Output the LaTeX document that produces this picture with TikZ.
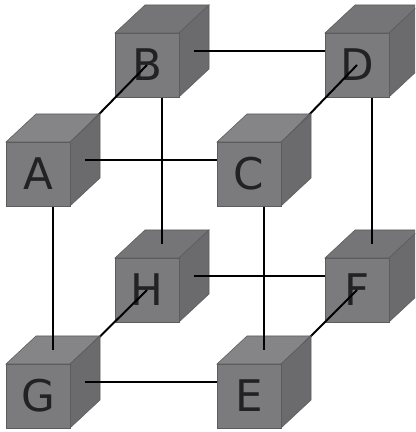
\documentclass[tikz,border=0pt]{standalone}
\usepackage{fontspec}
\setsansfont{DejaVu Sans}
\usepackage{xcolor}
\usepackage{tikz}
\usetikzlibrary{calc}
\definecolor{cfront}{HTML}{7B7B7D}
\definecolor{ctop}{HTML}{757577}
\definecolor{cside}{HTML}{6B6B6D}
\definecolor{cedge}{HTML}{5C5C5E}
\definecolor{cletter}{HTML}{222222}

\tikzset{
  cubefront/.style={fill=cfront, draw=cedge, line width=0.4pt},
  cubetop/.style={fill=ctop, draw=cedge, line width=0.4pt},
  cubeside/.style={fill=cside, draw=cedge, line width=0.4pt},
  cubelabel/.style={font=\sffamily\fontsize{31}{36}\selectfont, text=cletter, inner sep=0pt},
  link/.style={black, line width=1.4pt}
}

%% face centres of a cube: f front, k back, t top, b bottom, l left, r right
\newcommand{\cubeat}[2]{%
  \coordinate (#1)   at (#2);
  \coordinate (#1-f) at (#2);
  \coordinate (#1-k) at ($(#2)+(30,28)$);
  \coordinate (#1-t) at ($(#2)+(15,46)$);
  \coordinate (#1-b) at ($(#2)+(15,-18)$);
  \coordinate (#1-r) at ($(#2)+(47,14)$);
  \coordinate (#1-l) at ($(#2)+(-17,14)$);
}
%% cube drawn round its front centre, #2 = opacity of the top face
\newcommand{\drawcube}[2]{%
  \begin{scope}[shift={(#1)}]
    \filldraw[cubetop, fill opacity=#2] (-32,32) -- (32,32) -- (62,60) -- (-2,60) -- cycle;
    \filldraw[cubeside] (32,-32) -- (62,-4) -- (62,60) -- (32,32) -- cycle;
    \filldraw[cubefront] (-32,-32) rectangle (32,32);
  \end{scope}
  \node[cubelabel] (#1-name) at (#1) {#1};
}

\begin{document}
\begin{tikzpicture}[x=0.025cm, y=0.025cm]

%% Background
\fill[white] (0,0) rectangle (415,432);
\clip (0,0) rectangle (415,432);

%% Positions
\cubeat{A}{38,258}
\cubeat{C}{249,258}
\cubeat{G}{38,36}
\cubeat{E}{249,36}
\cubeat{B}{147,367}
\cubeat{D}{357,367}
\cubeat{H}{147,142}
\cubeat{F}{357,142}

%% ── back layer, bottom row ──────────────────────────────────────────────
\drawcube{H}{1}
\draw[link] (H-r) -- (F-l);
\drawcube{F}{1}

%% back layer, verticals
\draw[link] (B-b) -- (H-t);
\draw[link] (D-b) -- (F-t);

%% ── back layer, top row ─────────────────────────────────────────────────
\drawcube{B}{1}
\draw[link] (B-r) -- (D-l);
\drawcube{D}{1}

%% depth edges
\draw[link] (A-k) -- (B-f);
\draw[link] (C-k) -- (D-f);
\draw[link] (G-k) -- (H-f);
\draw[link] (E-k) -- (F-f);

%% ── front layer, bottom row ─────────────────────────────────────────────
\drawcube{G}{0.88}
\draw[link] (G-r) -- (E-l);
\drawcube{E}{0.88}

%% front layer, verticals
\draw[link] (A-b) -- (G-t);
\draw[link] (C-b) -- (E-t);

%% ── front layer, top row ────────────────────────────────────────────────
\drawcube{A}{0.88}
\draw[link] (A-r) -- (C-l);
\drawcube{C}{0.88}

\end{tikzpicture}
\end{document}
